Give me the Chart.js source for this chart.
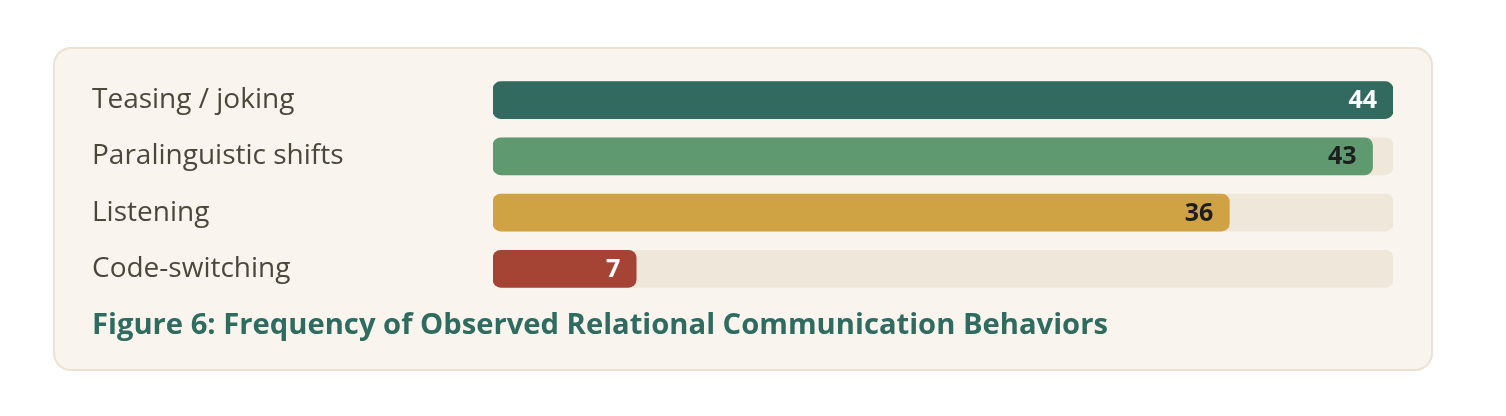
<!DOCTYPE html>
<html>
<head>
<meta charset="utf-8">
<script src="https://cdn.jsdelivr.net/npm/chart.js@4/dist/chart.umd.min.js"></script>
<style>
  html, body { margin: 0; padding: 0; background: #ffffff; }
  #card {
    position: absolute; left: 53px; top: 47px; width: 1376px; height: 320px;
    background: #f9f5ee; border: 2px solid #ebe2d1; border-radius: 18px;
  }
  #wrap { position: absolute; left: 0; top: 0; width: 1376px; height: 320px; }
</style>
</head>
<body>
<div id="card"><div id="wrap"><canvas id="c"></canvas></div></div>
<script>
const categories = ["Teasing / joking", "Paralinguistic shifts", "Listening", "Code-switching"];
const counts = [44, 43, 36, 7];
const barColors = ["#336a5f", "#5e9970", "#cfa344", "#a54434"];
const valueLabelColors = ["#ffffff", "#1e1e1e", "#1e1e1e", "#ffffff"];
const titleText = "Figure 6: Frequency of Observed Relational Communication Behaviors";

const maxCount = Math.max(...counts);
const trackValues = categories.map(() => maxCount);

const valueLabels = {
  id: 'valueLabels',
  afterDatasetsDraw(chart) {
    const ctx = chart.ctx;
    const meta = chart.getDatasetMeta(1);
    ctx.save();
    ctx.font = "bold 25px 'Open Sans'";
    ctx.textAlign = 'right';
    ctx.textBaseline = 'middle';
    meta.data.forEach((el, i) => {
      ctx.fillStyle = valueLabelColors[i];
      ctx.fillText(String(counts[i]), el.x - 16, el.y + 1);
    });
    ctx.restore();
  }
};

new Chart(document.getElementById('c'), {
  type: 'bar',
  data: {
    labels: categories,
    datasets: [
      {
        data: trackValues,
        backgroundColor: '#efe7d9',
        borderRadius: 8,
        borderSkipped: false,
        grouped: false,
        barThickness: 37,
        order: 2
      },
      {
        data: counts,
        backgroundColor: barColors,
        borderRadius: 8,
        borderSkipped: false,
        grouped: false,
        barThickness: 37,
        order: 1
      }
    ]
  },
  options: {
    indexAxis: 'y',
    responsive: true,
    maintainAspectRatio: false,
    animation: false,
    layout: { padding: { left: 37, right: 38, top: 23, bottom: 26 } },
    plugins: {
      legend: { display: false },
      tooltip: { enabled: false },
      title: {
        display: true,
        text: titleText,
        position: 'bottom',
        align: 'start',
        color: '#2f6b5e',
        font: { family: 'Open Sans', size: 29.2, weight: 'bold' },
        padding: { top: 11, bottom: 0 }
      }
    },
    scales: {
      x: {
        display: false,
        min: 0,
        max: maxCount
      },
      y: {
        grid: { display: false },
        border: { display: false },
        afterFit(scale) { scale.width = 401; },
        ticks: {
          crossAlign: 'far',
          color: '#4b473b',
          padding: 0,
          font: { family: 'Open Sans', size: 28 }
        }
      }
    }
  },
  plugins: [valueLabels]
});
</script>
</body>
</html>
